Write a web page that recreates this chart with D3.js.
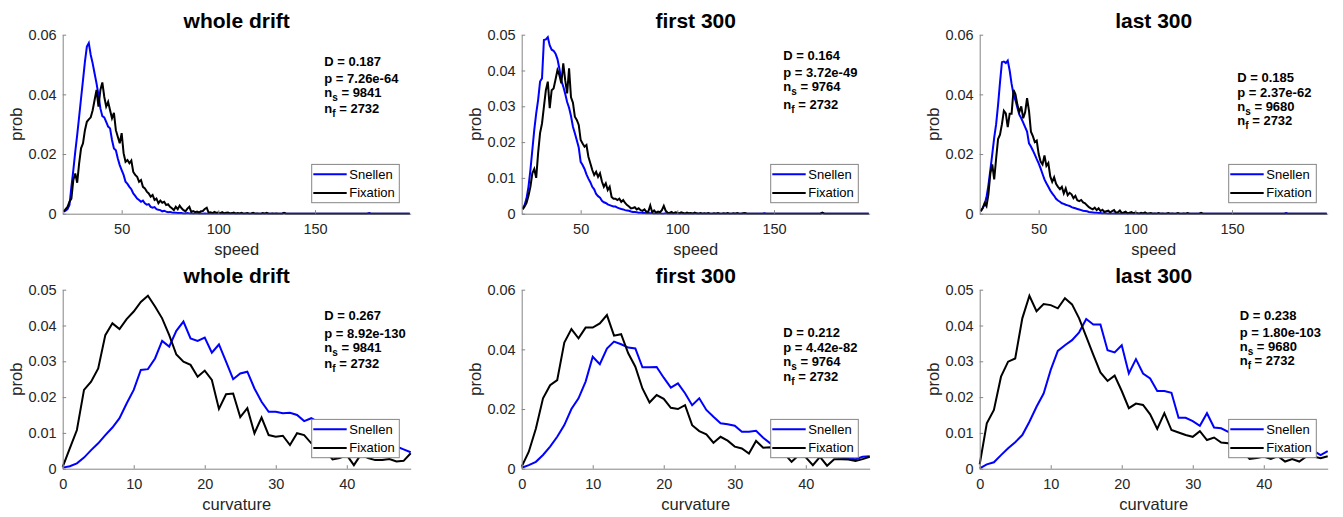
<!DOCTYPE html>
<html lang="en">
<head>
<meta charset="UTF-8">
<title>drift speed / curvature</title>
<style>
  body { margin: 0; background: #fff; }
  text { font-family: "Liberation Sans", Arial, Helvetica, sans-serif; }
</style>
</head>
<body>
<script src="https://d3js.org/d3.v7.min.js"></script>
<script>

// all prob values are stored x1000
var speedBins = d3.range(20, 200);
var curvBins = d3.range(0, 50);

var speedWholeSn = [
  0.7,1.0,1.5,2.9,9.0,14.6,20.8,26.4,32.5,38.7,44.8,51.0,56.0,57.2,53.2,50.4,47.0,43.7,39.8,35.3,
  32.7,32.3,30.8,29.2,28.6,24.7,21.9,21.3,18.5,16.3,14.6,13.0,10.7,10.0,9.0,8.2,6.8,6.0,5.1,4.6,
  4.0,4.4,3.5,3.0,3.2,2.3,2.0,2.2,1.5,1.3,1.2,0.8,1.0,0.7,0.5,0.6,0.4,0.3,0.3,0.2,
  0.2,0.2,0.1,0.1,0.2,0.1,0.1,0,0.1,0.1,0,0.1,0,0.1,0,0.1,0,0,0.1,0,
  0,0,0.1,0,0,0,0,0,0,0,0,0,0,0,0,0,0,0,0,0,
  0,0,0,0,0,0,0,0,0,0,0,0,0,0,0.2,0,0,0,0,0,
  0,0,0,0,0,0,0,0,0,0,0,0,0,0,0,0,0,0,0,0,
  0,0,0,0,0,0,0,0,0,0,0,0,0,0,0,0,0,0,0.2,0,
  0,0,0,0,0,0,0,0,0,0,0,0,0,0,0,0,0,0,0,0
];
var speedWholeFix = [
  0.7,1.5,2.3,4.0,5.0,11.3,13.5,10.4,16.9,21.9,23.6,28.0,30.8,31.6,32.3,34.7,38.1,41.5,35.9,41.5,
  44.0,39.2,35.9,37.5,34.7,32.0,33.8,28.0,25.8,23.6,27.0,20.3,17.4,18.0,16.9,17.8,14.0,13.0,12.4,10.7,
  11.3,9.0,8.5,7.4,6.8,5.7,6.3,4.6,5.1,3.5,4.4,3.7,4.0,2.9,3.2,2.3,1.8,1.2,2.3,1.5,
  2.7,1.8,1.2,0.8,1.7,2.3,0.6,0.9,0.5,0.7,0.4,0.8,0.9,1.6,2.0,0.3,0.5,0.2,0.6,0.3,
  0.4,0.2,0.5,0.1,0.3,0.4,0.1,0.2,0.4,0,0.2,0.1,0.3,0,0.1,0.2,0,0.1,0.3,0,
  0.1,0,0,0.2,0,0.3,0,0,0.1,0,0.1,0,0,0,0.3,0,0,0,0,0,
  0,0,0,0,0,0,0,0,0,0,0,0,0,0,0,0,0,0,0,0,
  0,0,0,0,0,0,0,0,0,0,0,0,0,0,0,0,0,0,0,0,
  0,0,0,0,0,0,0,0,0,0,0,0,0,0,0,0,0,0,0,0
];
var speedFirstSn = [
  1.5,2.4,4.3,7.5,12.2,17.8,23.4,28.0,31.8,36.9,37.8,48.5,48.7,49.3,47.0,45.8,45.5,44.7,43.2,40.5,
  37.2,35.5,33.5,31.2,29.6,27.3,24.3,22.5,20.5,18.5,14.5,13.6,12.5,11.0,9.8,8.8,7.5,6.8,5.5,4.9,
  4.5,3.6,3.2,3.0,2.6,2.4,2.2,2.0,2.0,1.7,1.5,1.3,1.2,1.0,0.9,0.8,0.6,0.5,0.5,0.4,
  0.3,0.3,0.2,0.2,0.1,0.2,0.1,0.1,0,0.1,0,0.1,0,0,0.1,0,0,0,0,0,
  0,0,0,0,0,0,0,0,0,0,0,0,0,0,0,0,0,0,0,0,
  0,0,0,0,0,0,0,0,0,0,0,0,0,0,0,0,0,0,0,0,
  0,0,0,0,0,0.1,0,0,0,0,0,0,0,0,0,0,0,0,0,0,
  0,0,0,0,0,0,0,0,0,0,0,0,0,0,0,0.2,0,0,0,0,
  0,0,0,0,0,0,0,0,0,0,0,0,0,0,0,0,0,0,0,0
];
var speedFirstFix = [
  1.2,2.0,3.0,5.0,7.5,11.3,12.5,10.0,17.0,22.5,25.2,29.9,34.5,36.9,29.5,34.5,35.0,37.5,40.1,38.7,
  36.4,42.0,37.3,33.6,40.6,32.5,31.0,27.1,26.2,24.8,20.6,19.6,18.7,19.2,15.9,14.1,12.2,10.8,11.7,10.3,
  11.3,9.0,7.5,8.5,6.6,7.5,4.7,4.2,4.2,3.8,4.2,3.3,3.8,3.0,2.4,2.0,1.5,1.6,1.8,1.2,
  1.5,1.0,0.8,1.2,0.5,0.6,2.3,0.4,0.9,0.3,0.6,0.4,1.0,2.2,0.8,0.3,0.2,0.5,0.1,0.4,
  0.3,0.1,0.4,0.2,0,0.3,0.1,0.2,0,0.3,0.1,0,0.2,0,0.1,0,0.2,0,0,0.1,
  0,0.2,0,0,0.1,0,0.2,0,0,0.1,0,0.2,0,0,0.1,0.2,0,0,0,0,
  0,0,0,0,0,0,0,0,0,0,0,0,0,0,0,0,0,0,0,0,
  0,0,0,0,0,0,0,0,0,0,0,0,0,0,0,0.3,0,0,0,0,
  0,0,0,0,0,0,0,0,0,0,0,0,0,0,0,0,0,0,0,0
];
var speedLastSn = [
  0.8,1.8,3.0,5.5,9.5,14.6,20.0,25.5,30.0,36.5,44.0,50.8,51.0,50.5,51.3,48.0,43.5,40.0,38.0,35.5,
  33.2,32.0,30.5,29.0,27.5,23.6,22.5,21.2,19.8,18.3,16.9,15.2,13.3,11.5,10.2,9.0,7.8,6.8,6.0,5.0,
  4.4,4.0,3.5,3.3,3.0,2.8,2.6,2.2,2.0,1.8,1.6,1.4,1.2,1.0,0.9,0.8,0.6,0.5,0.4,0.3,
  0.3,0.2,0.2,0.1,0.2,0.1,0,0.1,0,0.1,0,0,0.1,0,0,0,0,0,0,0,
  0,0,0,0,0,0,0,0,0,0,0,0,0,0,0,0,0,0,0,0,
  0,0,0,0,0,0,0,0,0,0,0,0,0,0,0,0,0,0,0,0,
  0,0,0,0,0,0,0,0,0,0,0,0,0,0,0,0,0,0,0,0,
  0,0,0,0,0,0,0,0,0,0,0,0,0,0,0,0,0,0,0.2,0,
  0,0,0,0,0,0,0,0,0,0,0,0,0,0,0,0,0,0,0,0
];
var speedLastFix = [
  0.8,1.8,3.5,2.5,6.5,13.5,16.5,11.5,18.5,25.0,26.5,30.0,34.5,33.6,29.0,33.5,33.5,41.5,40.0,36.5,
  34.0,36.0,32.0,34.0,38.7,34.5,27.5,26.0,24.0,24.5,20.0,17.5,16.5,19.5,16.0,17.0,12.5,10.7,12.2,10.0,
  9.0,8.2,9.0,6.8,8.5,6.2,7.0,6.5,5.2,6.0,4.5,4.2,4.6,3.8,3.5,2.8,2.2,1.8,1.5,2.0,
  1.2,1.8,0.9,1.3,0.6,0.8,1.0,0.4,0.9,1.2,0.3,0.5,1.1,0.2,0.4,0.7,0.1,0.3,0.5,0.1,
  0.4,0.2,0,0.3,0.1,0.4,0,0.1,0.2,0,0.1,0,0.2,0,0.1,0,0,0.2,0,0.1,
  0,0,0.2,0,0,0.1,0,0.2,0,0,0,0,0,0,0.3,0,0,0,0,0,
  0,0,0,0,0,0,0,0,0,0,0,0,0,0,0,0,0,0,0,0,
  0,0,0,0,0,0,0,0,0,0,0,0,0,0,0,0,0,0,0,0,
  0,0,0,0,0,0,0,0,0,0,0,0,0,0,0,0,0,0,0,0
];

var curvWholeSn = [
  0.3,0.7,1.5,3.1,5.2,7.1,9.4,11.5,14.1,18.2,
  22.0,27.6,27.8,30.8,35.7,34.1,38.5,41.1,36.4,35.7,
  36.6,32.4,34.7,29.9,25.0,26.6,27.1,22.4,18.7,15.9,
  15.9,15.5,15.6,15.0,13.3,14.1,13.0,12.5,12.0,11.0,
  10.5,9.5,9.0,8.5,8.0,7.5,7.0,6.2,5.4,4.6
];
var curvWholeFix = [
  0.5,5.7,10.8,22.0,24.3,28.0,37.3,40.6,39.0,41.8,
  43.9,46.6,48.3,45.3,42.0,37.3,31.9,29.9,29.0,25.7,
  27.4,24.8,16.7,20.8,21.0,14.4,16.9,9.9,14.3,9.4,
  8.9,9.2,6.6,9.9,9.4,7.1,6.2,5.0,2.6,3.0,
  3.8,1.0,4.0,3.0,2.4,2.4,2.7,2.0,2.2,4.3
];
var curvFirstSn = [
  0.3,1.2,2.3,4.6,7.4,10.7,14.6,20.0,23.6,29.2,
  37.5,35.0,40.3,42.6,41.7,40.6,40.3,34.0,34.0,34.1,
  30.5,27.2,28.6,25.3,21.3,23.6,19.7,17.4,15.2,14.9,
  14.4,12.4,12.4,12.7,10.4,8.5,7.8,7.2,6.6,6.0,
  5.6,5.0,4.7,4.4,4.0,3.7,3.4,3.2,4.0,4.2
];
var curvFirstFix = [
  0.7,5.7,13.5,23.6,28.0,29.7,42.3,46.8,43.7,47.3,
  47.3,48.7,51.5,44.6,45.1,38.7,34.2,26.9,22.2,24.7,
  23.4,20.4,20.0,21.3,14.6,12.6,11.5,8.7,10.7,9.4,
  7.4,6.8,5.1,9.3,7.0,7.2,6.2,5.0,2.3,4.5,
  3.8,1.2,4.0,1.0,3.2,3.2,3.1,2.6,3.2,4.0
];
var curvLastSn = [
  0.1,1.2,1.8,3.8,5.7,7.4,9.4,13.1,17.3,21.0,
  27.6,32.9,34.5,35.9,38.1,41.8,40.3,40.3,33.1,32.5,
  34.5,26.6,30.6,26.6,25.2,21.7,21.7,21.2,14.2,14.2,
  13.3,12.0,15.5,11.5,11.3,10.3,9.5,9.0,8.5,8.0,
  7.5,7.0,6.6,6.2,5.8,5.5,5.2,5.0,3.8,4.9
];
var curvLastFix = [
  1.2,12.7,16.4,25.7,29.9,30.8,42.0,48.3,44.0,46.0,
  45.7,44.8,47.6,45.9,42.0,36.9,31.8,26.9,24.5,26.0,
  21.7,16.9,18.2,17.8,15.2,11.1,15.5,10.8,10.1,9.4,
  8.9,10.5,8.0,8.7,7.3,7.1,6.0,5.0,2.7,3.0,
  3.4,2.7,3.5,2.0,2.7,2.0,3.4,3.4,2.9,3.5
];

var titles = ["whole drift", "first 300", "last 300"];
var xLabels = ["speed", "curvature"];
var seriesNames = ["Snellen", "Fixation"];
var statD = ["0.187", "0.164", "0.185", "0.267", "0.212", "0.238"];
var statP = ["7.26e-64", "3.72e-49", "2.37e-62", "8.92e-130", "4.42e-82", "1.80e-103"];
var statNs = ["9841", "9764", "9680", "9841", "9764", "9680"];
var statNf = ["2732", "2732", "2732", "2732", "2732", "2732"];
var yMax = [0.06, 0.05, 0.06, 0.05, 0.06, 0.05];
var yStep = [0.02, 0.01, 0.02, 0.01, 0.02, 0.01];
var speedTicks = [50, 100, 150];
var curvTicks = [0, 10, 20, 30, 40];

var snData = [speedWholeSn, speedFirstSn, speedLastSn, curvWholeSn, curvFirstSn, curvLastSn];
var fixData = [speedWholeFix, speedFirstFix, speedLastFix, curvWholeFix, curvFirstFix, curvLastFix];

// layout
var w = 1343, h = 517;
var axLeft = [62.7, 521.7, 979.7];
var axTop = [34.7, 289.7];
var axW = 348, axH = 179;
var annX = [261.6, 261.6, 257.6, 261.6, 261.6, 260];
var annY = [31.3, 25.3, 47, 30.3, 47, 30.3];
var annLines = [[0,17,30.7,47.3],[0,17.3,30.7,49.3],[0,15,29,43.5],[0,18.3,31.7,48.3],[0,15.3,29,44],[0,16.7,30.7,45]];
var axisColor = "#858585";

var svg = d3.select("body").append("svg")
  .attr("width", w)
  .attr("height", h)
  .style("display", "block");

for (var k = 0; k < 6; k++) {
  var row = Math.floor(k / 3), col = k % 3;
  var isSpeed = row === 0;
  var bins = isSpeed ? speedBins : curvBins;

  var g = svg.append("g")
    .attr("transform", "translate(" + axLeft[col] + "," + axTop[row] + ")");

  var x = d3.scaleLinear()
    .domain(isSpeed ? [19.5, 199.5] : [0, 49])
    .range([0, axW]);
  var y = d3.scaleLinear()
    .domain([0, yMax[k]])
    .range([axH, 0]);

  var line = d3.line()
    .x(function(d) { return x(d[0]); })
    .y(function(d) { return y(d[1] / 1000); });

  g.append("path")
    .datum(d3.zip(bins, snData[k]))
    .attr("d", line)
    .attr("fill", "none")
    .attr("stroke", "#0000ff")
    .attr("stroke-width", 2);

  g.append("path")
    .datum(d3.zip(bins, fixData[k]))
    .attr("d", line)
    .attr("fill", "none")
    .attr("stroke", "#000")
    .attr("stroke-width", 2);

  // axes, MATLAB style: inward ticks, box off
  var yAxis = d3.axisLeft(y)
    .tickValues(d3.range(0, yMax[k] + 1e-9, yStep[k]))
    .tickFormat(function(d) { return d === 0 ? "0" : d3.format(".2f")(d); })
    .tickSizeInner(-3.5)
    .tickSizeOuter(0)
    .tickPadding(6);
  var xAxis = d3.axisBottom(x)
    .tickValues(isSpeed ? speedTicks : curvTicks)
    .tickSizeInner(-3.5)
    .tickSizeOuter(0)
    .tickPadding(10);

  var ya = g.append("g").call(yAxis);
  var xa = g.append("g").attr("transform", "translate(0," + axH + ")").call(xAxis);
  [ya, xa].forEach(function(a) {
    a.select(".domain").attr("stroke", axisColor);
    a.selectAll(".tick line").attr("stroke", axisColor);
    a.selectAll(".tick text")
      .attr("fill", "#262626")
      .style("font-size", "14.5px")
      .style("font-family", "'Liberation Sans', Arial, sans-serif");
  });

  g.append("text")
    .attr("x", axW / 2)
    .attr("y", -6.4)
    .attr("text-anchor", "middle")
    .attr("font-size", "21px")
    .attr("font-weight", "bold")
    .attr("fill", "#000")
    .text(titles[col]);

  g.append("text")
    .attr("x", axW / 2)
    .attr("y", axH + 41)
    .attr("text-anchor", "middle")
    .attr("font-size", "16.5px")
    .attr("fill", "#262626")
    .text(xLabels[row]);

  g.append("text")
    .attr("transform", "translate(-40.7," + (axH / 2) + ") rotate(-90)")
    .attr("text-anchor", "middle")
    .attr("font-size", "16.5px")
    .attr("fill", "#262626")
    .text("prob");

  // statistics text
  var ann = g.append("g")
    .attr("transform", "translate(" + annX[k] + "," + annY[k] + ")")
    .attr("font-size", "13px")
    .attr("font-weight", "bold")
    .attr("fill", "#000");
  ann.append("text").attr("y", annLines[k][0]).text("D = " + statD[k]);
  ann.append("text").attr("y", annLines[k][1]).text("p = " + statP[k]);
  var ns = ann.append("text").attr("y", annLines[k][2]);
  ns.append("tspan").text("n");
  ns.append("tspan").attr("dy", 4).attr("font-size", "10px").text("s");
  ns.append("tspan").attr("dy", -4).text(" = " + statNs[k]);
  var nf = ann.append("text").attr("y", annLines[k][3]);
  nf.append("tspan").text("n");
  nf.append("tspan").attr("dy", 4).attr("font-size", "10px").text("f");
  nf.append("tspan").attr("dy", -4).text(" = " + statNf[k]);

  // legend
  var lw = 87.6, lh = 38.3;
  var leg = g.append("g")
    .attr("transform", "translate(" + (axW - 11.4 - lw) + "," + (axH - 11 - lh) + ")");
  leg.append("rect")
    .attr("width", lw)
    .attr("height", lh)
    .attr("fill", "#fff")
    .attr("stroke", axisColor)
    .attr("stroke-width", 1);
  seriesNames.forEach(function(name, i) {
    var ly = 9.8 + i * 18.7;
    leg.append("line")
      .attr("x1", 1.6).attr("x2", 35)
      .attr("y1", ly).attr("y2", ly)
      .attr("stroke", i === 0 ? "#0000ff" : "#000")
      .attr("stroke-width", 2);
    leg.append("text")
      .attr("x", 37.6)
      .attr("y", ly)
      .attr("dy", "0.35em")
      .attr("font-size", "13px")
      .attr("fill", "#000")
      .text(name);
  });
}

</script>
</body>
</html>
